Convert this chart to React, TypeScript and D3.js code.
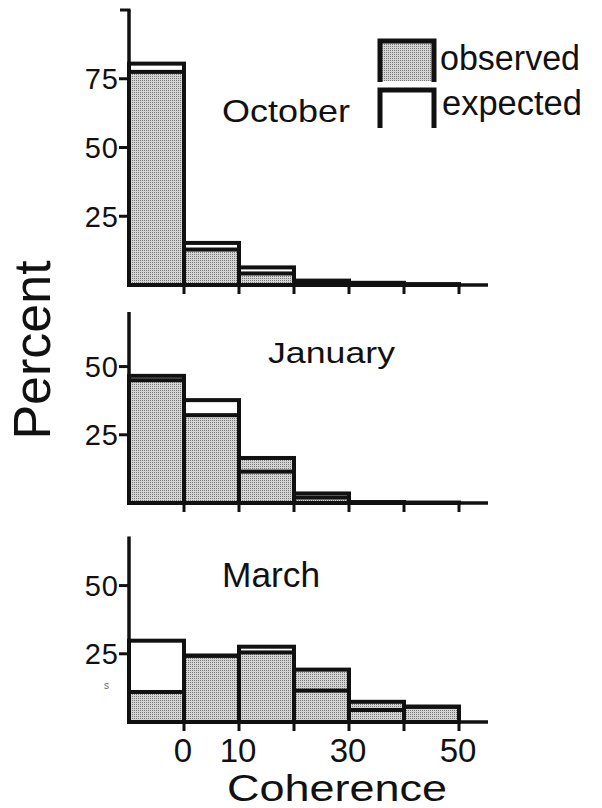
import React from "react";
import * as d3 from "d3";

// ---- data (percent per coherence bin) ----
const binStarts = [-10, 0, 10, 20, 30, 40];
const binWidth = 10;
const xTickValues = [0, 10, 20, 30, 40, 50];
const xTickLabels = ["0", "10", "", "30", "", "50"];

const octoberObserved = [77.5, 12.9, 4.2, 1.0, 0.5, 0.2];
const octoberExpected = [80.5, 15.3, 6.4, 1.6, 0.8, 0.3];
const januaryObserved = [45.0, 32.2, 16.5, 2.0, 0.3, 0.1];
const januaryExpected = [46.6, 37.7, 11.5, 3.5, 0.3, 0.1];
const marchObserved = [11.0, 24.3, 25.5, 19.2, 7.4, 5.6];
const marchExpected = [29.8, 24.3, 27.6, 11.5, 4.4, 5.6];

const octoberTicks = [25, 50, 75];
const januaryTicks = [25, 50];
const marchTicks = [25, 50];

const monthNames = ["October", "January", "March"];
const legendLabels = ["observed", "expected"];

const FONT = "'Liberation Sans', Arial, Helvetica, sans-serif";
const INK = "#111";

type Panel = {
  name: string;
  observed: number[];
  expected: number[];
  ticks: number[];
  yMax: number;
  axisTop: number;
  base: number;
  top: number;
  topTick: boolean;
  title: { x: number; y: number; size: number; len: number };
};

export default function App() {
  const x = d3.scaleLinear().domain([-10, 50]).range([129, 459]);

  const panels: Panel[] = [
    {
      name: monthNames[0], observed: octoberObserved, expected: octoberExpected,
      ticks: octoberTicks, yMax: 100, axisTop: 100, base: 285, top: 10, topTick: true,
      title: { x: 222, y: 122, size: 32, len: 128 },
    },
    {
      name: monthNames[1], observed: januaryObserved, expected: januaryExpected,
      ticks: januaryTicks, yMax: 70, axisTop: 70, base: 503, top: 312, topTick: false,
      title: { x: 268, y: 363, size: 29, len: 127 },
    },
    {
      name: monthNames[2], observed: marchObserved, expected: marchExpected,
      ticks: marchTicks, yMax: 70, axisTop: 68, base: 722, top: 531, topTick: false,
      title: { x: 222, y: 587, size: 35, len: 98 },
    },
  ];

  const SW = 4;

  return (
    <svg
      width={602}
      height={808}
      viewBox="0 0 602 808"
      style={{ position: "absolute", left: 0, top: 0, background: "#fff" }}
    >
      <defs>
        <pattern id="stipple" width={2} height={2} patternUnits="userSpaceOnUse">
          <rect x={0} y={0} width={2} height={2} fill="#d4d4d4" />
          <rect x={0} y={0} width={1} height={1} fill="#7a7a7a" />
        </pattern>
      </defs>
      <rect x={0} y={0} width={602} height={808} fill="#fff" />

      {panels.map((p, pi) => {
        const y = d3.scaleLinear().domain([0, p.yMax]).range([p.base, p.top]);
        return (
          <g key={pi}>
            {/* bars */}
            {binStarts.map((b, i) => {
              const x0 = x(b);
              const x1 = x(b + binWidth);
              const ye = y(p.expected[i]);
              const yo = y(p.observed[i]);
              return (
                <g key={i}>
                  <rect x={x0} y={ye} width={x1 - x0} height={p.base - ye} fill="#fff" stroke="none" />
                  <rect x={x0} y={yo} width={x1 - x0} height={p.base - yo} fill="url(#stipple)" stroke={INK} strokeWidth={SW} />
                  <rect x={x0} y={ye} width={x1 - x0} height={p.base - ye} fill="none" stroke={INK} strokeWidth={SW} />
                </g>
              );
            })}
            {/* x axis */}
            <line x1={x(-10)} x2={488} y1={p.base} y2={p.base} stroke={INK} strokeWidth={3.5} />
            {xTickValues.map((t) => (
              <line key={t} x1={x(t)} x2={x(t)} y1={p.base} y2={p.base + 9} stroke={INK} strokeWidth={3} />
            ))}
            {/* y axis */}
            <line x1={x(-10)} x2={x(-10)} y1={p.base + 1} y2={y(p.axisTop)} stroke={INK} strokeWidth={3.5} />
            {p.topTick && (
              <line x1={x(-10) - 9} x2={x(-10) + 1.5} y1={y(p.axisTop)} y2={y(p.axisTop)} stroke={INK} strokeWidth={3} />
            )}
            {p.ticks.map((t) => (
              <g key={t}>
                <line x1={x(-10) - 10} x2={x(-10)} y1={y(t)} y2={y(t)} stroke={INK} strokeWidth={3} />
                <text
                  x={119}
                  y={y(t)}
                  dy="0.36em"
                  textAnchor="end"
                  fontFamily={FONT}
                  fontSize={29}
                  letterSpacing={1}
                  fill={INK}
                >
                  {t}
                </text>
              </g>
            ))}
            {/* month title */}
            <text
              x={p.title.x}
              y={p.title.y}
              fontFamily={FONT}
              fontSize={p.title.size}
              textLength={p.title.len}
              lengthAdjust="spacingAndGlyphs"
              fill={INK}
            >
              {p.name}
            </text>
          </g>
        );
      })}

      {/* legend */}
      <g>
        <rect x={380} y={41} width={54} height={40} fill="url(#stipple)" />
        <path d="M380,82 L380,41 L434,41 L434,82" fill="none" stroke={INK} strokeWidth={5} />
        <path d="M380,128 L380,90 L434,90 L434,128" fill="none" stroke={INK} strokeWidth={5} />
        <text x={440} y={70} fontFamily={FONT} fontSize={35} textLength={140} lengthAdjust="spacingAndGlyphs" fill={INK}>
          {legendLabels[0]}
        </text>
        <text x={442} y={115} fontFamily={FONT} fontSize={35} textLength={140} lengthAdjust="spacingAndGlyphs" fill={INK}>
          {legendLabels[1]}
        </text>
      </g>

      {/* x tick labels (bottom panel) */}
      {xTickValues.map((t, i) =>
        xTickLabels[i] ? (
          <text key={t} x={x(t) - 1} y={762} textAnchor="middle" fontFamily={FONT} fontSize={33} fill={INK}>
            {xTickLabels[i]}
          </text>
        ) : null
      )}

      {/* axis titles */}
      <text
        x={337}
        y={801}
        textAnchor="middle"
        fontFamily={FONT}
        fontSize={36}
        textLength={220}
        lengthAdjust="spacingAndGlyphs"
        fill={INK}
      >
        Coherence
      </text>
      <text
        transform="translate(50,350) rotate(-90)"
        textAnchor="middle"
        fontFamily={FONT}
        fontSize={52}
        fill={INK}
      >
        Percent
      </text>

      {/* stray scan mark */}
      <text x={104} y={689} fontFamily={FONT} fontSize={10} fill="#666">
        s
      </text>
    </svg>
  );
}
